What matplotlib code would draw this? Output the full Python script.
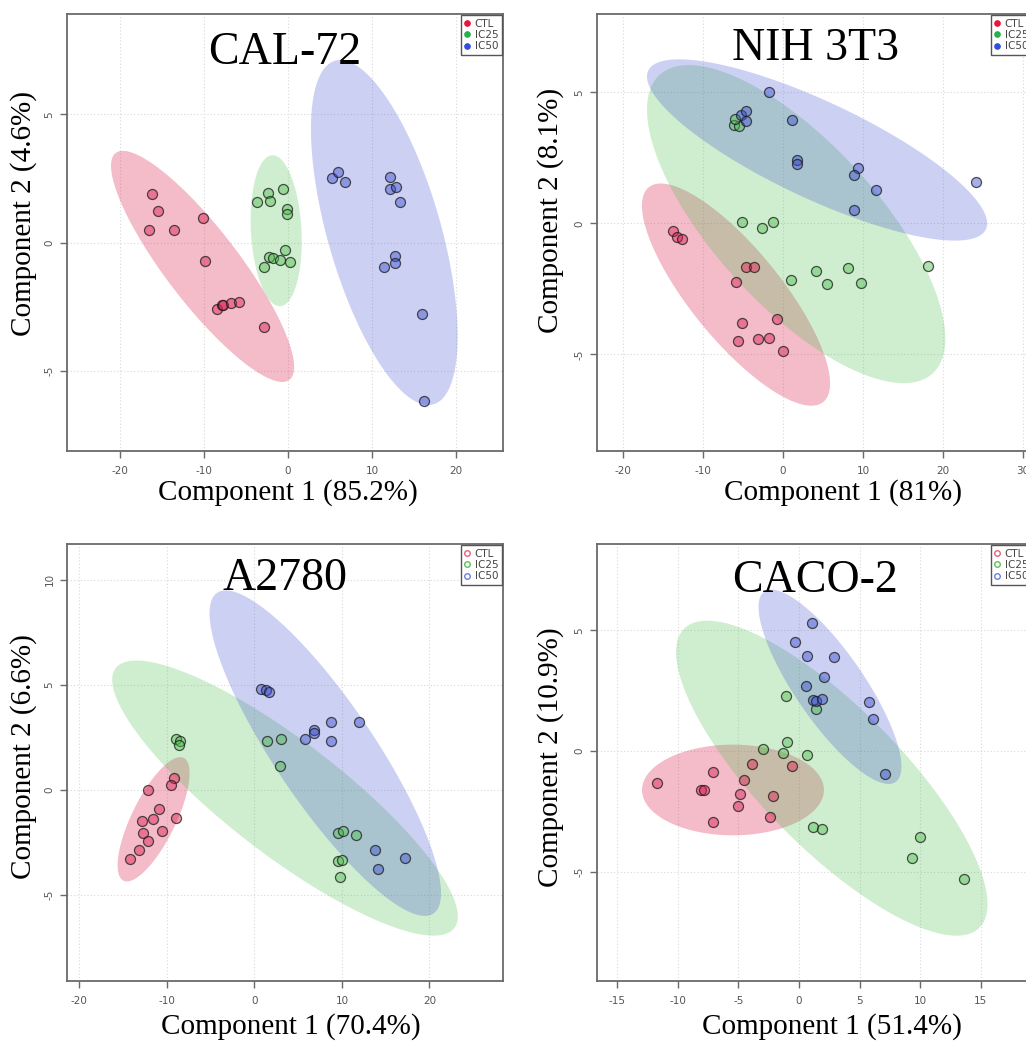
import numpy as np
import matplotlib
matplotlib.use("Agg")
import matplotlib.pyplot as plt
from matplotlib.lines import Line2D

plt.rcParams["axes.unicode_minus"] = False

# ---------------- data ----------------
groups = ["CTL", "IC25", "IC50"]

# CAL-72
cal72_ctl_x = [-16.2, -15.5, -16.5, -13.6, -10.1, -9.9, -8.5, -7.9, -7.7, -6.8, -5.8, -2.9]
cal72_ctl_y = [1.90, 1.25, 0.51, 0.51, 0.95, -0.70, -2.58, -2.43, -2.43, -2.35, -2.32, -3.29]
cal72_ic25_x = [-3.7, -2.4, -2.1, -0.6, -0.1, -0.1, -0.3, -2.2, -1.8, -0.9, 0.2, -2.8]
cal72_ic25_y = [1.57, 1.92, 1.61, 2.09, 1.31, 1.12, -0.30, -0.55, -0.61, -0.68, -0.75, -0.94]
cal72_ic50_x = [5.3, 6.0, 6.8, 12.1, 12.1, 12.9, 13.3, 12.8, 12.8, 11.4, 16.0, 16.2]
cal72_ic50_y = [2.53, 2.74, 2.38, 2.57, 2.09, 2.16, 1.58, -0.53, -0.78, -0.95, -2.79, -6.17]
# ellipses: centre x, centre y, x half-extent, y half-extent, correlation
cal72_ell_ctl = [-10.16, -0.92, 10.9, 4.50, -0.87]
cal72_ell_ic25 = [-1.40, 0.47, 3.04, 2.94, -0.14]
cal72_ell_ic50 = [11.47, 0.40, 8.73, 6.72, -0.60]

# NIH 3T3
nih_ctl_x = [-13.8, -13.3, -12.6, -4.6, -3.7, -5.9, -5.2, -0.8, -5.6, -3.2, -1.8, 0.0]
nih_ctl_y = [-0.28, -0.53, -0.60, -1.67, -1.67, -2.24, -3.82, -3.65, -4.48, -4.41, -4.36, -4.86]
nih_ic25_x = [-6.1, -5.5, -6.0, -5.1, -1.3, -2.6, 4.1, 8.1, 18.2, 1.0, 5.5, 9.7]
nih_ic25_y = [3.77, 3.71, 3.98, 0.04, 0.06, -0.19, -1.81, -1.70, -1.62, -2.18, -2.32, -2.29]
nih_ic50_x = [-1.8, -5.3, -4.6, -4.6, 1.1, 1.8, 1.8, 9.4, 8.9, 11.7, 8.9, 24.2]
nih_ic50_y = [5.03, 4.13, 4.29, 3.92, 3.94, 2.42, 2.26, 2.10, 1.84, 1.28, 0.51, 1.59]
nih_ell_ctl = [-5.89, -2.72, 11.78, 4.24, -0.80]
nih_ell_ic25 = [1.64, -0.03, 18.68, 6.07, -0.72]
nih_ell_ic50 = [4.26, 2.80, 21.30, 3.46, -0.81]

# A2780
a2780_ctl_x = [-12.2, -9.2, -9.5, -10.9, -12.8, -11.6, -9.0, -12.7, -10.6, -12.2, -13.2, -14.2]
a2780_ctl_y = [0.00, 0.57, 0.24, -0.92, -1.46, -1.38, -1.35, -2.03, -1.94, -2.41, -2.86, -3.30]
a2780_ic25_x = [-9.0, -8.5, -8.6, 1.5, 3.0, 2.9, 9.6, 10.1, 11.6, 9.6, 10.0, 9.8]
a2780_ic25_y = [2.43, 2.35, 2.14, 2.35, 2.41, 1.16, -2.03, -1.95, -2.16, -3.40, -3.35, -4.13]
a2780_ic50_x = [0.8, 1.3, 1.7, 8.8, 12.0, 6.8, 6.8, 5.8, 8.7, 13.8, 14.1, 17.2]
a2780_ic50_y = [4.81, 4.76, 4.68, 3.22, 3.22, 2.83, 2.70, 2.41, 2.35, -2.86, -3.76, -3.24]
a2780_ell_ctl = [-11.51, -1.40, 4.11, 2.96, 0.74]
a2780_ell_ic25 = [3.50, -0.39, 19.74, 6.55, -0.86]
a2780_ell_ic50 = [8.10, 1.75, 13.22, 7.75, -0.86]

# CACO-2
caco_ctl_x = [-11.7, -8.1, -7.8, -7.1, -7.1, -3.9, -4.5, -4.9, -5.0, -2.1, -2.4, -0.6]
caco_ctl_y = [-1.35, -1.60, -1.60, -0.89, -2.96, -0.53, -1.19, -1.78, -2.28, -1.86, -2.74, -0.63]
caco_ic25_x = [-1.1, 1.4, -3.0, -1.0, -1.3, 0.7, 1.2, 1.9, 10.0, 9.3, 13.6]
caco_ic25_y = [2.28, 1.75, 0.06, 0.38, -0.07, -0.17, -3.14, -3.24, -3.56, -4.42, -5.29]
caco_ic50_x = [1.1, -0.3, 0.7, 2.9, 2.1, 0.6, 1.2, 1.4, 1.9, 5.8, 6.1, 7.1]
caco_ic50_y = [5.29, 4.50, 3.92, 3.88, 3.06, 2.69, 2.11, 2.07, 2.14, 2.03, 1.33, -0.96]
caco_ell_ctl = [-5.44, -1.62, 7.50, 1.88, 0.00]
caco_ell_ic25 = [2.71, -1.13, 12.84, 6.53, -0.80]
caco_ell_ic50 = [2.56, 2.66, 5.89, 4.03, -0.82]

titles = ["CAL-72", "NIH 3T3", "A2780", "CACO-2"]
xlabels = ["Component 1 (85.2%)", "Component 1 (81%)", "Component 1 (70.4%)", "Component 1 (51.4%)"]
ylabels = ["Component 2 (4.6%)", "Component 2 (8.1%)", "Component 2 (6.6%)", "Component 2 (10.9%)"]
xticks_list = [[-20, -10, 0, 10, 20], [-20, -10, 0, 10, 20, 30], [-20, -10, 0, 10, 20], [-15, -10, -5, 0, 5, 10, 15]]
yticks_list = [[-5, 0, 5], [-5, 0, 5], [-5, 0, 5, 10], [-5, 0, 5]]
xlims = [(-26.3, 25.6), (-23.3, 31.3), (-21.4, 28.4), (-16.65, 19.3)]
ylims = [(-8.11, 8.91), (-8.69, 7.99), (-9.10, 11.71), (-9.54, 8.58)]

# ---------------- style ----------------
base = {"CTL": (0.86, 0.12, 0.31), "IC25": (0.31, 0.75, 0.31), "IC50": (0.24, 0.31, 0.82)}
ell_alpha = {"CTL": 0.30, "IC25": 0.27, "IC50": 0.26}
legend_solid = {"CTL": "#e8143c", "IC25": "#22b14c", "IC50": "#2f4fe0"}
legend_open = {"CTL": "#e8607a", "IC25": "#5cc05c", "IC50": "#6a7fe0"}
serif = "Liberation Serif"

W, H = 1026, 1041
fig = plt.figure(figsize=(W / 100, H / 100), dpi=100)


def rect(l, t, r, b):
    return [l / W, 1 - b / H, (r - l) / W, (b - t) / H]


axes_px = [(67, 14, 503, 451), (597, 14, 1033, 451), (67, 544, 503, 981), (597, 544, 1033, 981)]
xlab_px = [(288, 500), (843, 500), (291, 1034), (832, 1034)]
ylab_px = [(24, 213), (551, 210), (24, 757), (551, 757)]
title_y = [0.886, 0.895, 0.895, 0.89]

panel_data = [
    [(cal72_ctl_x, cal72_ctl_y), (cal72_ic25_x, cal72_ic25_y), (cal72_ic50_x, cal72_ic50_y)],
    [(nih_ctl_x, nih_ctl_y), (nih_ic25_x, nih_ic25_y), (nih_ic50_x, nih_ic50_y)],
    [(a2780_ctl_x, a2780_ctl_y), (a2780_ic25_x, a2780_ic25_y), (a2780_ic50_x, a2780_ic50_y)],
    [(caco_ctl_x, caco_ctl_y), (caco_ic25_x, caco_ic25_y), (caco_ic50_x, caco_ic50_y)],
]
panel_ell = [
    [cal72_ell_ctl, cal72_ell_ic25, cal72_ell_ic50],
    [nih_ell_ctl, nih_ell_ic25, nih_ell_ic50],
    [a2780_ell_ctl, a2780_ell_ic25, a2780_ell_ic50],
    [caco_ell_ctl, caco_ell_ic25, caco_ell_ic50],
]


def ellipse_xy(p, n=300):
    cx, cy, a, b, rho = p
    d = np.arccos(rho)
    t = np.linspace(0, 2 * np.pi, n)
    return cx + a * np.cos(t), cy + b * np.cos(t - d)


for i in range(4):
    ax = fig.add_axes(rect(*axes_px[i]))
    ax.set_xlim(*xlims[i])
    ax.set_ylim(*ylims[i])
    ax.set_xticks(xticks_list[i])
    ax.set_yticks(yticks_list[i])
    ax.grid(True, linestyle=(0, (1, 2)), color="#d8d8d8", linewidth=0.8)
    ax.set_axisbelow(True)
    for s in ax.spines.values():
        s.set_color("#6a6a6a")
        s.set_linewidth(1.3)
    ax.tick_params(direction="out", length=5, width=1, color="#6a6a6a",
                   labelcolor="#555555", labelsize=7.5)
    ax.tick_params(axis="x", pad=6)
    ax.tick_params(axis="y", pad=4)
    for lab in ax.get_yticklabels():
        lab.set_rotation(90)
        lab.set_va("center")

    for g, ep in zip(groups, panel_ell[i]):
        ex, ey = ellipse_xy(ep)
        ax.fill(ex, ey, color=base[g], alpha=ell_alpha[g], lw=0, zorder=1)
    for g, (xs, ys) in zip(groups, panel_data[i]):
        ax.scatter(xs, ys, s=52, facecolor=(*base[g], 0.45),
                   edgecolor=(0.1, 0.1, 0.1, 0.75), linewidth=0.9, zorder=3)

    ax.text(0.5, title_y[i], titles[i], transform=ax.transAxes, ha="center",
            va="baseline", fontsize=33, family=serif, zorder=5)

    if i < 2:
        handles = [Line2D([], [], marker="o", ls="", markersize=3.8,
                          markerfacecolor=legend_solid[g], markeredgecolor=legend_solid[g],
                          label=g) for g in groups]
    else:
        handles = [Line2D([], [], marker="o", ls="", markersize=4,
                          markerfacecolor="none", markeredgecolor=legend_open[g],
                          markeredgewidth=1, label=g) for g in groups]
    leg = ax.legend(handles=handles, loc="upper right", fontsize=7.5,
                    labelspacing=0.12, handlelength=0.6, handletextpad=0.4,
                    borderpad=0.35, borderaxespad=0.1, fancybox=False,
                    framealpha=1, edgecolor="#555555", labelcolor="#444444")
    leg.get_frame().set_linewidth(1.0)
    leg.set_zorder(6)

    fig.text(xlab_px[i][0] / W, 1 - xlab_px[i][1] / H, xlabels[i], ha="center",
             va="baseline", fontsize=21, family=serif)
    fig.text(ylab_px[i][0] / W, 1 - ylab_px[i][1] / H, ylabels[i], ha="center",
             va="center", rotation=90, fontsize=21, family=serif)

fig.savefig("out.png", dpi=100)
